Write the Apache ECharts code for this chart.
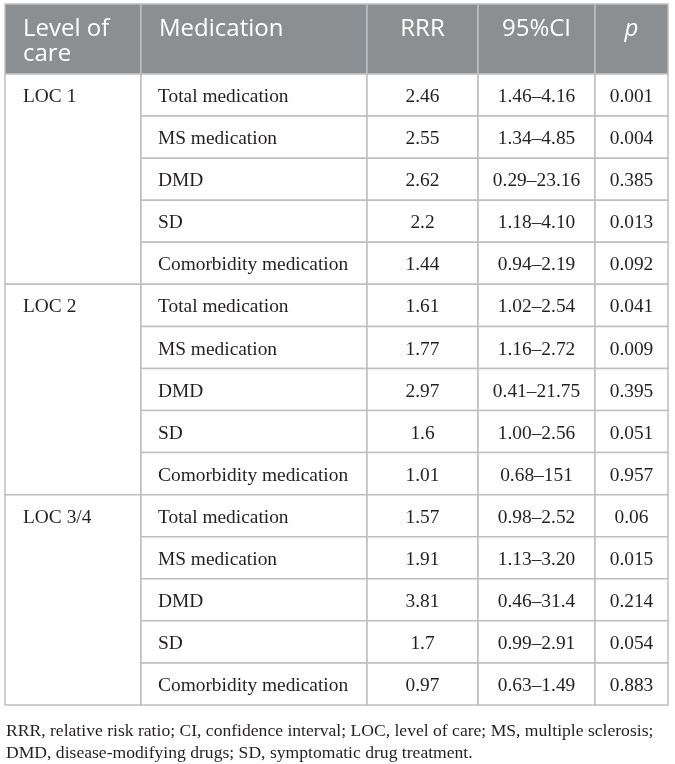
<!DOCTYPE html>
<html><head><meta charset="utf-8">
<script src="https://cdn.jsdelivr.net/npm/echarts@6/dist/echarts.min.js"></script>
<style>html,body{margin:0;padding:0;background:#fff}#c{width:675px;height:764px}</style>
</head><body><div id="c"></div>
<script>
// ---- data ----
const headers = ['Level of\ncare', 'Medication', 'RRR', '95%CI', 'p'];
const levels = ['LOC 1', 'LOC 2', 'LOC 3/4'];
const medications = ['Total medication', 'MS medication', 'DMD', 'SD', 'Comorbidity medication'];
const rrrLOC1 = ['2.46', '2.55', '2.62', '2.2', '1.44'];
const ciLOC1 = ['1.46–4.16', '1.34–4.85', '0.29–23.16', '1.18–4.10', '0.94–2.19'];
const pLOC1 = ['0.001', '0.004', '0.385', '0.013', '0.092'];
const rrrLOC2 = ['1.61', '1.77', '2.97', '1.6', '1.01'];
const ciLOC2 = ['1.02–2.54', '1.16–2.72', '0.41–21.75', '1.00–2.56', '0.68–151'];
const pLOC2 = ['0.041', '0.009', '0.395', '0.051', '0.957'];
const rrrLOC34 = ['1.57', '1.91', '3.81', '1.7', '0.97'];
const ciLOC34 = ['0.98–2.52', '1.13–3.20', '0.46–31.4', '0.99–2.91', '0.63–1.49'];
const pLOC34 = ['0.06', '0.015', '0.214', '0.054', '0.883'];
const footnote = 'RRR, relative risk ratio; CI, confidence interval; LOC, level of care; MS, multiple sclerosis;\nDMD, disease-modifying drugs; SD, symptomatic drug treatment.';

// ---- layout (not data) ----
const colEdges = [5, 141, 367, 478, 595, 668];
const HEADER_ROWS = 70 / 42.07;
const rrrAll = [rrrLOC1, rrrLOC2, rrrLOC34];
const ciAll = [ciLOC1, ciLOC2, ciLOC34];
const pAll = [pLOC1, pLOC2, pLOC34];

// build cells: [c0, c1, r0, r1, text, kind]
const cells = [];
headers.forEach((h, i) => cells.push([i, i + 1, -HEADER_ROWS, 0, h, 'head']));
levels.forEach((lv, g) => {
  const base = g * medications.length;
  cells.push([0, 1, base, base + medications.length, lv, 'level']);
  medications.forEach((m, k) => {
    const r = base + k;
    cells.push([1, 2, r, r + 1, m, 'med']);
    cells.push([2, 3, r, r + 1, rrrAll[g][k], 'num']);
    cells.push([3, 4, r, r + 1, ciAll[g][k], 'num']);
    cells.push([4, 5, r, r + 1, pAll[g][k], 'num']);
  });
});

const SERIF = '"Liberation Serif", "DejaVu Serif", serif';
const SANS = '"Open Sans", "Noto Sans", sans-serif';

function renderItem(params, api) {
  const c0 = api.value(0), c1 = api.value(1), r0 = api.value(2), r1 = api.value(3);
  const d = cells[params.dataIndex];
  const text = d[4], kind = d[5];
  const p0 = api.coord([colEdges[c0], r0]);
  const p1 = api.coord([colEdges[c1], r1]);
  const x = p0[0], y = p0[1], w = p1[0] - p0[0], h = p1[1] - p0[1];
  const children = [{
    type: 'rect',
    shape: { x: x, y: y, width: w, height: h },
    style: { fill: kind === 'head' ? '#8c8f91' : '#ffffff', stroke: '#bfbfbf', lineWidth: 1.5 }
  }];
  let ts;
  if (kind === 'head') {
    const left = c0 < 2;
    ts = {
      text: text, x: left ? x + 18 : x + w / 2, y: y + 13,
      fill: '#ffffff', align: left ? 'left' : 'center', verticalAlign: 'top',
      font: (text === 'p' ? 'italic ' : '') + '24px ' + SANS, lineHeight: 25
    };
  } else {
    const cy = api.coord([0, r0 + 0.5])[1];
    const left = kind === 'level' || kind === 'med';
    ts = {
      text: text, x: left ? x + (kind === 'level' ? 18 : 17) : x + w / 2, y: cy + 2,
      fill: '#231f20', align: left ? 'left' : 'center', verticalAlign: 'middle',
      font: '19.4px ' + SERIF
    };
  }
  children.push({ type: 'text', style: ts, z2: 10 });
  return { type: 'group', children: children };
}

const chart = echarts.init(document.getElementById('c'), null, { renderer: 'canvas' });
chart.setOption({
  animation: false,
  backgroundColor: '#ffffff',
  title: {
    text: footnote, left: 1, top: 715,
    textStyle: { fontFamily: SERIF, fontSize: 17.6, fontWeight: 'normal', color: '#231f20', lineHeight: 22 }
  },
  grid: { left: 0, right: 0, top: 4, height: 701 },
  xAxis: { type: 'value', min: 0, max: 675, show: false },
  yAxis: { type: 'value', min: -HEADER_ROWS, max: 15, inverse: true, show: false },
  series: [{
    type: 'custom',
    renderItem: renderItem,
    encode: { x: [0, 1], y: [2, 3] },
    data: cells.map(c => [c[0], c[1], c[2], c[3]]),
    silent: true
  }]
});
</script></body></html>
